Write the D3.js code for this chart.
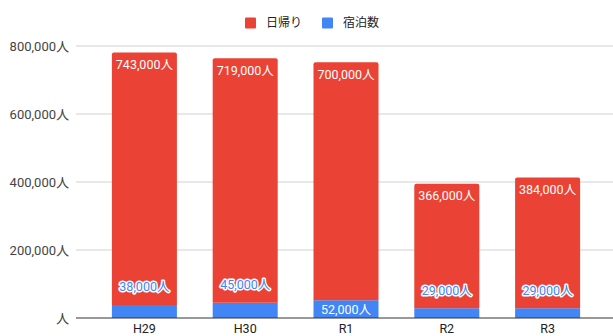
<!DOCTYPE html>
<html>
<head>
<meta charset="utf-8">
<script src="https://cdn.jsdelivr.net/npm/d3@7"></script>
<style>
  body { margin: 0; background: #fff; }
  svg { display: block; font-family: Roboto, "Noto Sans CJK JP", sans-serif; }
</style>
</head>
<body>
<svg width="613" height="336"></svg>
<script>
var categories = ["H29", "H30", "R1", "R2", "R3"];
var dayTrip = [743000, 719000, 700000, 366000, 384000];
var overnight = [38000, 45000, 52000, 29000, 29000];
var yTicks = [0, 200000, 400000, 600000, 800000];
var seriesNames = ["日帰り", "宿泊数"];

var red = "#ea4335", blue = "#4285f4";

var svg = d3.select("svg");

var x = d3.scaleBand()
    .domain(categories)
    .range([94, 598])
    .paddingInner(0.355)
    .paddingOuter(0.1775);

var y = d3.scaleLinear()
    .domain([0, 800000])
    .range([318, 46]);

var fmt = d3.format(",");
function label(v) { return (v === 0 ? "" : fmt(v)) + "人"; }

// gridlines
svg.append("g").selectAll("line")
  .data(yTicks.slice(1))
  .enter().append("line")
    .attr("x1", 76).attr("x2", 613)
    .attr("y1", function(d) { return y(d); })
    .attr("y2", function(d) { return y(d); })
    .attr("stroke", "#e0e0e0")
    .attr("stroke-width", 1.5);

// y tick labels
svg.append("g").selectAll("text")
  .data(yTicks)
  .enter().append("text")
    .attr("x", 69)
    .attr("y", function(d) { return y(d); })
    .attr("dy", "0.35em")
    .attr("text-anchor", "end")
    .attr("font-size", 13)
    .attr("fill", "#444")
    .text(label);

var rows = categories.map(function(c, i) {
  return { cat: c, overnight: overnight[i], dayTrip: dayTrip[i] };
});
var stack = d3.stack().keys(["overnight", "dayTrip"]);
var layers = stack(rows);

function barPath(d, rounded) {
  var x0 = x(d.data.cat), w = x.bandwidth();
  var y0 = y(d[0]), y1 = y(d[1]), r = rounded ? 2 : 0;
  return "M" + x0 + "," + y0 +
    "V" + (y1 + r) + "Q" + x0 + "," + y1 + " " + (x0 + r) + "," + y1 +
    "H" + (x0 + w - r) + "Q" + (x0 + w) + "," + y1 + " " + (x0 + w) + "," + (y1 + r) +
    "V" + y0 + "Z";
}

svg.append("g").selectAll("g")
  .data(layers)
  .enter().append("g")
    .attr("fill", function(d) { return d.key === "dayTrip" ? red : blue; })
  .selectAll("path")
  .data(function(d) { return d.map(function(p) { p.key = d.key; return p; }); })
  .enter().append("path")
    .attr("d", function(d) { return barPath(d, d.key === "dayTrip"); });

// baseline
svg.append("line")
  .attr("x1", 76).attr("x2", 613)
  .attr("y1", y(0)).attr("y2", y(0))
  .attr("stroke", "#333").attr("stroke-width", 1);

// x labels
svg.append("g").selectAll("text")
  .data(categories)
  .enter().append("text")
    .attr("x", function(d) { return x(d) + x.bandwidth() / 2; })
    .attr("y", 329)
    .attr("dy", "0.35em")
    .attr("text-anchor", "middle")
    .attr("font-size", 12.5)
    .attr("fill", "#222")
    .text(function(d) { return d; });

// day trip labels (top inside)
svg.append("g").selectAll("text")
  .data(layers[1])
  .enter().append("text")
    .attr("x", function(d) { return x(d.data.cat) + x.bandwidth() / 2; })
    .attr("y", function(d) { return y(d[1]) + 12; })
    .attr("dy", "0.35em")
    .attr("text-anchor", "middle")
    .attr("font-size", 12.5)
    .attr("fill", "#fff")
    .text(function(d) { return label(d.data.dayTrip); });

// overnight labels
svg.append("g").selectAll("text")
  .data(layers[0])
  .enter().append("text")
    .attr("x", function(d) { return x(d.data.cat) + x.bandwidth() / 2; })
    .attr("y", function(d) {
      var h = y(d[0]) - y(d[1]);
      return h >= 16 ? (y(d[0]) + y(d[1])) / 2 : y(d[1]) - 18;
    })
    .attr("dy", "0.35em")
    .attr("text-anchor", "middle")
    .attr("font-size", 12.5)
    .each(function(d) {
      var inside = y(d[0]) - y(d[1]) >= 16;
      d3.select(this)
        .attr("fill", inside ? "#fff" : blue)
        .attr("stroke", inside ? "none" : "#fff")
        .attr("stroke-width", 3)
        .attr("paint-order", "stroke")
        .attr("stroke-linejoin", "round");
    })
    .text(function(d) { return label(d.data.overnight); });

// legend
var legend = svg.append("g");
var legendItems = [
  { name: seriesNames[0], color: red, x: 245 },
  { name: seriesNames[1], color: blue, x: 322 }
];
legend.selectAll("rect")
  .data(legendItems)
  .enter().append("rect")
    .attr("x", function(d) { return d.x; })
    .attr("y", 17.5)
    .attr("width", 11).attr("height", 11)
    .attr("rx", 1)
    .attr("fill", function(d) { return d.color; });
legend.selectAll("text")
  .data(legendItems)
  .enter().append("text")
    .attr("x", function(d) { return d.x + 21; })
    .attr("y", 23)
    .attr("dy", "0.35em")
    .attr("font-size", 12)
    .attr("fill", "#222")
    .text(function(d) { return d.name; });
</script>
</body>
</html>
